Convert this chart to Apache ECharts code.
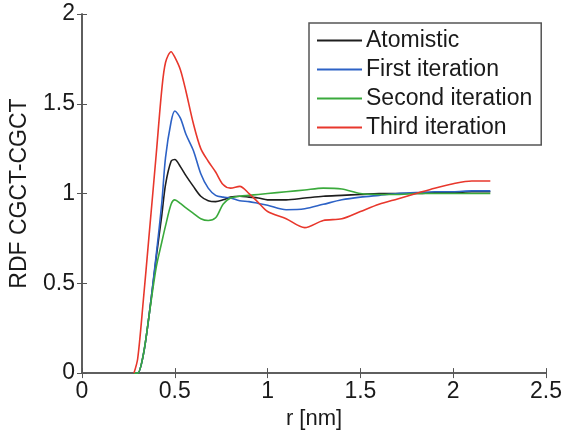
<!DOCTYPE html>
<html>
<head>
<meta charset="utf-8">
<script src="https://cdn.jsdelivr.net/npm/echarts@6/dist/echarts.min.js"></script>
<style>
  html, body { margin: 0; padding: 0; background: #fff; }
  #chart { width: 565px; height: 435px; }
</style>
</head>
<body>
<div id="chart"></div>
<script>
// r [nm] sample positions, shared by all curves
const rValues = [0.28, 0.30, 0.33, 0.36, 0.40, 0.43, 0.45, 0.48, 0.50, 0.53, 0.56, 0.60, 0.64, 0.68, 0.72, 0.76,
                 0.80, 0.85, 0.90, 0.95, 1.0, 1.1, 1.2, 1.3, 1.4, 1.5, 1.6, 1.7, 1.8, 1.9, 2.0, 2.1, 2.2];

const atomistic = [0, 0, 0.10, 0.31, 0.645, 0.88, 1.05, 1.18, 1.19, 1.15, 1.10, 1.04, 0.985, 0.96, 0.955, 0.965,
                   0.98, 0.985, 0.98, 0.975, 0.965, 0.965, 0.975, 0.985, 0.99, 0.995, 1.0, 1.0, 1.0, 1.005, 1.005, 1.01, 1.01];
const firstIter = [0, 0, 0.10, 0.31, 0.66, 0.95, 1.20, 1.40, 1.46, 1.42, 1.33, 1.24, 1.11, 1.03, 0.99, 0.98,
                   0.975, 0.96, 0.955, 0.945, 0.935, 0.91, 0.915, 0.94, 0.965, 0.98, 0.99, 1.0, 1.005, 1.01, 1.01, 1.015, 1.015];
const secondIter = [0, 0, 0.10, 0.31, 0.59, 0.73, 0.82, 0.94, 0.965, 0.945, 0.92, 0.89, 0.86, 0.85, 0.865, 0.94,
                    0.975, 0.985, 0.99, 0.995, 1.0, 1.01, 1.02, 1.03, 1.025, 1.0, 0.995, 0.995, 1.0, 1.0, 1.0, 1.0, 1.0];
const thirdIter = [0, 0.08, 0.40, 0.75, 1.22, 1.58, 1.73, 1.79, 1.76, 1.69, 1.57, 1.39, 1.25, 1.18, 1.12, 1.05,
                   1.03, 1.04, 1.0, 0.95, 0.90, 0.86, 0.81, 0.85, 0.86, 0.90, 0.94, 0.97, 1.0, 1.03, 1.055, 1.07, 1.07];

const seriesNames = ['Atomistic', 'First iteration', 'Second iteration', 'Third iteration'];
const seriesColors = ['#1e1e1e', '#2d62c6', '#3aaa3c', '#e8372c'];
const xTicks = [0, 0.5, 1, 1.5, 2, 2.5];
const yTicks = [0, 0.5, 1, 1.5, 2];

const pairs = ys => rValues.map((r, i) => [r, ys[i]]);
const allData = [atomistic, firstIter, secondIter, thirdIter];

const axisCol = '#555';
const font = 'Liberation Sans';
const fmt = v => String(v);

const chart = echarts.init(document.getElementById('chart'));
chart.setOption({
  animation: false,
  grid: { left: 77, right: 16, top: 14, bottom: 58 },
  legend: {
    orient: 'vertical',
    left: 309,
    top: 23,
    icon: 'rect',
    itemWidth: 45,
    itemHeight: 2,
    itemGap: 6,
    padding: [6, 9, 6, 8],
    borderColor: '#555',
    borderWidth: 1.5,
    backgroundColor: '#fff',
    textStyle: { fontFamily: font, fontSize: 23, color: '#1a1a1a', lineHeight: 22, padding: [0, 0, 0, -1] },
    data: seriesNames
  },
  xAxis: [{
    type: 'value', min: xTicks[0], max: xTicks[xTicks.length - 1], interval: 0.5,
    name: 'r [nm]', nameLocation: 'middle', nameGap: 31,
    nameTextStyle: { fontFamily: font, fontSize: 22, color: '#1a1a1a' },
    axisLine: { lineStyle: { color: axisCol, width: 1.5 } },
    axisTick: { inside: true, length: 5, lineStyle: { color: axisCol } },
    axisLabel: { fontFamily: font, fontSize: 23, color: '#1a1a1a', margin: 7, formatter: fmt },
    splitLine: { show: false }
  }, {
    type: 'value', position: 'top', min: xTicks[0], max: xTicks[xTicks.length - 1], interval: 0.5,
    axisLine: { lineStyle: { color: axisCol, width: 1.5 } },
    axisTick: { inside: true, length: 5, lineStyle: { color: axisCol } },
    axisLabel: { show: false },
    splitLine: { show: false }
  }],
  yAxis: [{
    type: 'value', min: yTicks[0], max: yTicks[yTicks.length - 1], interval: 0.5,
    name: 'RDF CGCT-CGCT', nameLocation: 'middle', nameGap: 51,
    nameTextStyle: { fontFamily: font, fontSize: 23, color: '#1a1a1a' },
    axisLine: { show: true, lineStyle: { color: axisCol, width: 1.5 } },
    axisTick: { show: true, inside: true, length: 5, lineStyle: { color: axisCol } },
    axisLabel: { fontFamily: font, fontSize: 23, color: '#1a1a1a', margin: 7, formatter: fmt },
    splitLine: { show: false }
  }, {
    type: 'value', position: 'right', min: yTicks[0], max: yTicks[yTicks.length - 1], interval: 0.5,
    axisLine: { show: true, lineStyle: { color: axisCol, width: 1.5 } },
    axisTick: { show: true, inside: true, length: 5, lineStyle: { color: axisCol } },
    axisLabel: { show: false },
    splitLine: { show: false }
  }],
  series: seriesNames.map((name, i) => ({
    name: name,
    type: 'line',
    data: pairs(allData[i]),
    showSymbol: false,
    smooth: 0.3,
    color: seriesColors[i],
    lineStyle: { width: 1.6, color: seriesColors[i] }
  }))
});
</script>
</body>
</html>
